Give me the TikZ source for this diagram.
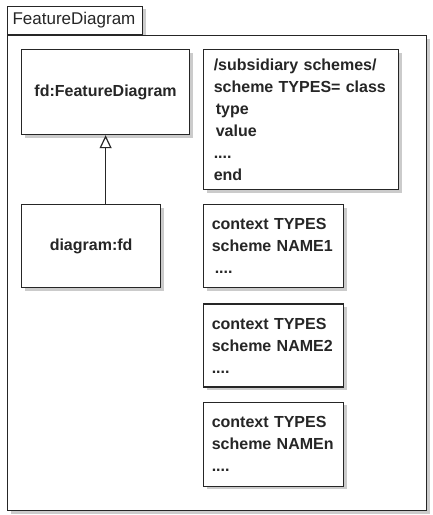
\documentclass[tikz,border=0pt]{standalone}
\usepackage{fontspec}
\setmainfont{Liberation Sans}
\usetikzlibrary{positioning,arrows.meta,shadows}

\begin{document}
\begin{tikzpicture}[x=1pt, y=-1pt, >={Triangle[open, length=13pt, width=12pt]}, every node/.style={font=\fontsize{16}{22}\selectfont\bfseries, text=black!85}, shbox/.style={draw=black!85, line width=1.2pt, fill=white, drop shadow={shadow xshift=3pt, shadow yshift=-3pt, fill=black!40}}, cls/.style={shbox, align=center, minimum height=85pt}, note/.style={shbox, align=left, inner xsep=8pt, text width=124pt, minimum height=83pt}, tab/.style={shbox, font=\fontsize{17}{20}\selectfont, align=left, inner xsep=5pt, text width=125pt, minimum height=28pt, inner ysep=0pt}]
\useasboundingbox (0,0) rectangle (433,515);
\node[tab, anchor=south west] (tab) at (7,35) {FeatureDiagram};
\node[shbox, minimum width=419pt, minimum height=475pt, below right=0pt and 0pt of tab.south west] (pkg) {};
\node[cls, minimum width=168pt, anchor=north west] (fd) at (21,49) {fd:FeatureDiagram};
\node[cls, minimum width=139pt, minimum height=83pt, below right=69pt and 0pt of fd.south west] (diag) {diagram:fd};
\node[note, inner xsep=10pt, text width=175pt, minimum height=140pt, below right=0pt and 13pt of fd.north east] (scheme) {/subsidiary schemes/\\scheme TYPES= class\\\hspace{2pt}type\\\hspace{2pt}value\\....\\end};
\node[note, below right=14pt and 0pt of scheme.south west] (ctx1) {context TYPES\\scheme NAME1\\\hspace{3pt}....};
\node[note, below=15pt of ctx1] (ctx2) {context TYPES\\scheme NAME2\\....};
\node[note, minimum height=84pt, below=14pt of ctx2] (ctxn) {context TYPES\\scheme NAMEn\\....};
\draw[->, draw=black!85, line width=1.2pt] (fd.south |- diag.north) -- (fd.south);
\end{tikzpicture}
\end{document}
